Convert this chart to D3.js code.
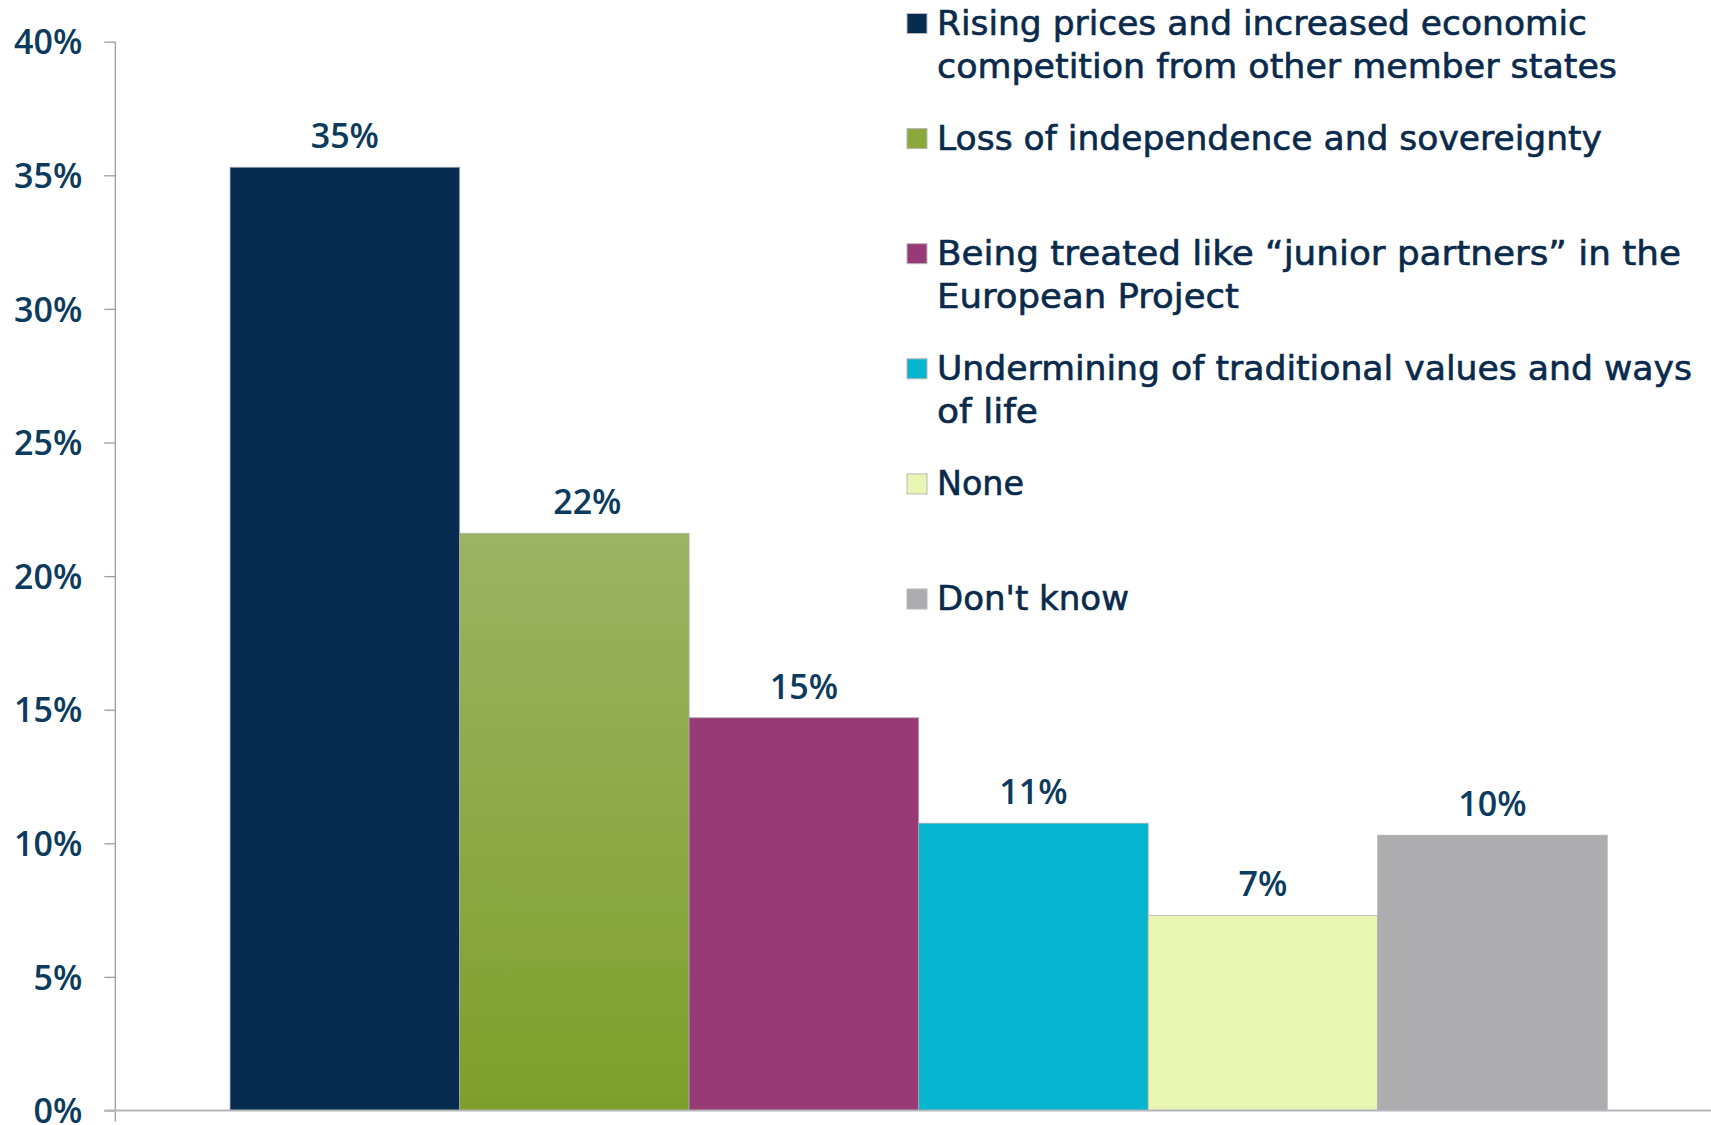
<!DOCTYPE html>
<html>
<head>
<meta charset="utf-8">
<script src="https://cdn.jsdelivr.net/npm/d3@7"></script>
<style>
  html, body { margin: 0; padding: 0; background: #ffffff; }
  svg { display: block; }
</style>
</head>
<body>
<svg id="chart" width="1711" height="1125"></svg>
<script>
// ---- data ----
const categories = [
  "Rising prices and increased economic competition from other member states",
  "Loss of independence and sovereignty",
  "Being treated like “junior partners” in the European Project",
  "Undermining of traditional values and ways of life",
  "None",
  "Don't know"
];
const values = [35.3, 21.6, 14.7, 10.75, 7.3, 10.3];
const valueLabels = ["35%", "22%", "15%", "11%", "7%", "10%"];
const legendLines = [
  ["Rising prices and increased economic", "competition from other member states"],
  ["Loss of independence and sovereignty"],
  ["Being treated like “junior partners” in the", "European Project"],
  ["Undermining of traditional values and ways", "of life"],
  ["None"],
  ["Don't know"]
];
const yTicks = [0, 5, 10, 15, 20, 25, 30, 35, 40];
const yTickLabels = ["0%", "5%", "10%", "15%", "20%", "25%", "30%", "35%", "40%"];

// ---- styles / layout ----
const colors = ["#082c50", "url(#greenGrad)", "#983a76", "#05b4ce", "#e9f5b3", "#adadaf"];
const legendColors = ["#082c50", "#8aa83c", "#983a76", "#05b4ce", "#e9f5b3", "#adadaf"];
const labelShift = [0, 13, 0, 0, 0, 0];            // horizontal nudge of value labels
const legendLineWidths = [[650, 680], [665], [744, 302], [755, 101], [87], [192]];

const svg = d3.select("#chart");
const axisX = 115.3;
const y = d3.scaleLinear().domain([0, 40]).range([1110.5, 41.7]);
const x = d3.scaleBand().domain(categories).range([axisX, 1722]).paddingInner(0).paddingOuter(0.5);

const defs = svg.append("defs");
const grad = defs.append("linearGradient").attr("id", "greenGrad")
  .attr("x1", 0).attr("y1", 0).attr("x2", 0).attr("y2", 1);
grad.append("stop").attr("offset", "0%").attr("stop-color", "#9bb363");
grad.append("stop").attr("offset", "100%").attr("stop-color", "#7e9f2b");

// bars
svg.append("g").selectAll("rect").data(categories).join("rect")
  .attr("x", d => x(d))
  .attr("y", (d, i) => y(values[i]))
  .attr("width", x.bandwidth())
  .attr("height", (d, i) => y(0) - y(values[i]))
  .attr("fill", (d, i) => colors[i])
  .attr("stroke", "#a9abae")
  .attr("stroke-width", 1)
  .attr("stroke-opacity", 0.7);

// value labels
svg.append("g").selectAll("text").data(categories).join("text")
  .attr("x", (d, i) => x(d) + x.bandwidth() / 2 + labelShift[i])
  .attr("y", (d, i) => y(values[i]) - 19)
  .attr("text-anchor", "middle")
  .attr("font-family", "'Open Sans', sans-serif")
  .attr("font-weight", 600)
  .attr("font-size", 34)
  .attr("fill", "#0c3b5d")
  .text((d, i) => valueLabels[i]);

// y axis
const yAxis = d3.axisLeft(y)
  .tickValues(yTicks)
  .tickFormat((d, i) => yTickLabels[i])
  .tickSize(11)
  .tickPadding(22);
const gy = svg.append("g").attr("transform", `translate(${axisX},0)`).call(yAxis);
gy.select(".domain").remove();
gy.selectAll(".tick line").attr("stroke", "#9a9ea4").attr("stroke-width", 1.3);
gy.selectAll(".tick text")
  .attr("font-family", "'Open Sans', sans-serif")
  .attr("font-weight", 600)
  .attr("font-size", 34)
  .attr("fill", "#0c3b5d")
  .attr("dy", "0.36em");
gy.append("line")
  .attr("x1", 0).attr("x2", 0)
  .attr("y1", y(40)).attr("y2", y(0) + 11)
  .attr("stroke", "#9a9ea4").attr("stroke-width", 1.3);

// x axis baseline
svg.append("line")
  .attr("x1", axisX - 11).attr("x2", 1711)
  .attr("y1", y(0)).attr("y2", y(0))
  .attr("stroke", "#b3b7bb").attr("stroke-width", 2);

// legend
const legendX = 907, legendTextX = 937, legendTop = 34.5, legendStep = 115.1, lineGap = 43;
const lg = svg.append("g");
legendLines.forEach((lines, i) => {
  const by = legendTop + i * legendStep;
  lg.append("rect")
    .attr("x", legendX).attr("y", by - 21)
    .attr("width", 20).attr("height", 20)
    .attr("fill", legendColors[i])
    .attr("stroke", "#b8b8b8").attr("stroke-width", 1);
  lines.forEach((ln, j) => {
    lg.append("text")
      .attr("x", legendTextX).attr("y", by + j * lineGap)
      .attr("font-family", "'DejaVu Sans', sans-serif")
      .attr("font-size", 34)
      .attr("fill", "#0a2a4c")
      .attr("stroke", "#0a2a4c").attr("stroke-width", 0.6)
      .attr("textLength", legendLineWidths[i][j])
      .attr("lengthAdjust", "spacingAndGlyphs")
      .text(ln);
  });
});
</script>
</body>
</html>
